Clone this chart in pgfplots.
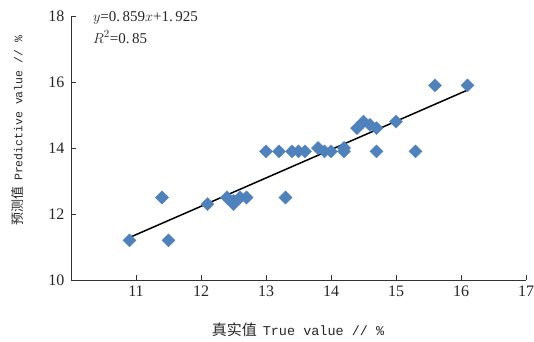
\documentclass[border=0pt]{standalone}
\usepackage{pgfplots}
\pgfplotsset{compat=1.18}
\usepackage{fontspec}
\setmainfont{Liberation Serif}
\newfontfamily\cjk{Noto Sans CJK SC}
\newfontfamily\mono{Liberation Mono}
\definecolor{pt}{HTML}{4F81BD}
\begin{document}
\begin{tikzpicture}
\useasboundingbox (-71bp,-62bp) rectangle (463bp,280bp);
\begin{axis}[
  at={(0,0)}, anchor=south west,
  scale only axis, width=455bp, height=264bp,
  xmin=10, xmax=17, ymin=10, ymax=18,
  xtick={11,12,13,14,15,16,17},
  ytick={10,12,14,16,18},
  axis x line*=bottom, axis y line*=left,
  axis line style={black!80, line width=0.8bp},
  tick style={black!80, line width=0.8bp},
  tick align=inside, major tick length=5bp,
  ticklabel style={font=\fontsize{16bp}{18bp}\selectfont, text=black!85},
  /pgf/number format/assume math mode=true,
  xticklabel style={yshift=-2bp},
  yticklabel style={xshift=-3bp},
  xlabel={{\cjk\fontsize{15bp}{17bp}\selectfont 真实值}\hspace{6bp}{\mono\fontsize{13.5bp}{17bp}\selectfont True value // \%}},
  ylabel={{\cjk\fontsize{13bp}{15bp}\selectfont 预测值}\hspace{6bp}{\mono\fontsize{11.5bp}{15bp}\selectfont Predictive value // \%}},
  xlabel style={at={(axis description cs:0.499,-0.19)}, anchor=center, text=black!85},
  ylabel style={at={(axis description cs:-0.118,0.565)}, anchor=center, text=black!85},
  clip=false,
]
\addplot[only marks, mark=square*, mark size=4.6bp, mark options={rotate=45, fill=pt, draw=pt}, color=pt]
coordinates {
(10.9,11.2) (11.4,12.5) (11.5,11.2) (12.1,12.3) (12.4,12.5) (12.5,12.3) (12.5,12.4)
(12.6,12.5) (12.7,12.5) (13.0,13.9) (13.2,13.9) (13.3,12.5) (13.4,13.9) (13.5,13.9)
(13.6,13.9) (13.8,14.0) (13.9,13.9) (14.0,13.9) (14.2,14.0) (14.2,13.9) (14.4,14.6)
(14.5,14.8) (14.6,14.7) (14.7,14.6) (14.7,13.9) (15.0,14.8) (15.3,13.9) (15.6,15.9)
(16.1,15.9)
};
\addplot[black, line width=1.5bp, no marks] coordinates {(10.9,11.288) (16.1,15.755)};
\node[anchor=west, font=\fontsize{15bp}{17bp}\selectfont, text=black!85, inner sep=0pt] at (axis description cs:0.048,0.993) {$y$=0.\,859$x$+1.\,925};
\node[anchor=west, font=\fontsize{15bp}{17bp}\selectfont, text=black!85, inner sep=0pt] at (axis description cs:0.048,0.92) {$R^{2}$=0.\,85};
\end{axis}
\end{tikzpicture}
\end{document}
